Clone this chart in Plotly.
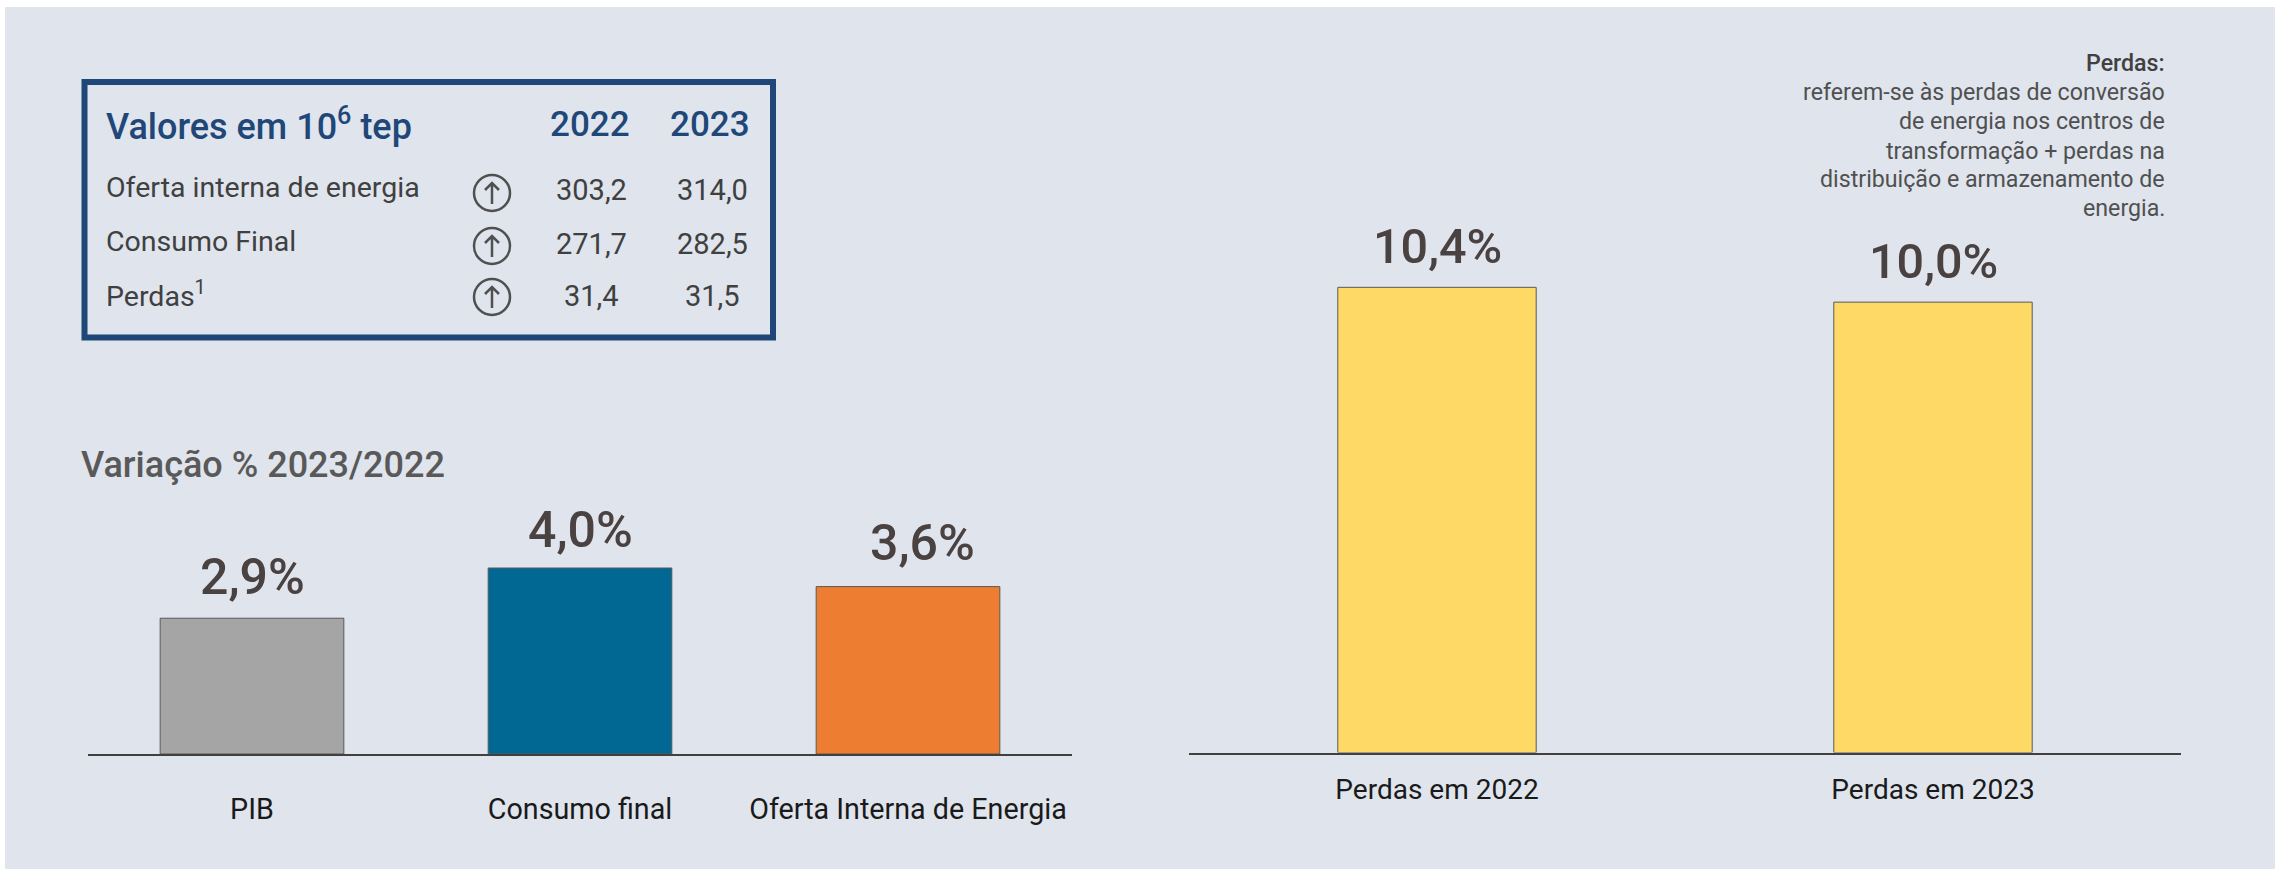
import plotly.graph_objects as go

W, H = 2275, 869
FONT = "Roboto"

# --- data ---
var_categories = ["PIB", "Consumo final", "Oferta Interna de Energia"]
var_values = [2.92, 4.0, 3.6]
var_labels = ["2,9%", "4,0%", "3,6%"]
var_colors = ["#A5A5A5", "#006892", "#ED7D31"]

loss_categories = ["Perdas em 2022", "Perdas em 2023"]
loss_values = [10.36, 10.03]
loss_labels = ["10,4%", "10,0%"]

table_header = ["Valores em 10<sup>6</sup> tep", "2022", "2023"]
table_rows = ["Oferta interna de energia", "Consumo Final", "Perdas<sup>1</sup>"]
table_2022 = ["303,2", "271,7", "31,4"]
table_2023 = ["314,0", "282,5", "31,5"]

note_title = "Perdas:"
note_lines = ["referem-se às perdas de conversão", "de energia nos centros de",
              "transformação + perdas na", "distribuição e armazenamento de", "energia."]
var_title = "Variação % 2023/2022"

# --- label nudges, in pixels (layout only) ---
var_label_dx = [0, 0, 14]
var_label_dy = [10, 7, 13]
loss_label_dy = [10, 10]

# --- helpers ---
px = lambda x: x / W
py = lambda y: 1 - y / H
GREY = "#404040"
LABEL = "#4A4141"
NAVY = "#1F4778"


def txt(x, y, s, size, color=GREY, anchor="left", weight=400):
    return dict(xref="paper", yref="paper", x=px(x), y=py(y), text=s, showarrow=False,
                xanchor=anchor, yanchor="middle", align=anchor,
                font=dict(family=FONT, size=size, color=color, weight=weight))


fig = go.Figure()
fig.add_bar(x=var_categories, y=var_values, marker=dict(color=var_colors, line=dict(color="#595959", width=1)),
            width=0.56, xaxis="x", yaxis="y", showlegend=False)
fig.add_bar(x=loss_categories, y=loss_values, marker=dict(color="#FFD966", line=dict(color="#595959", width=1)),
            width=0.40, xaxis="x2", yaxis="y2", showlegend=False)

ann = []
for c, v, l, dx, dy in zip(var_categories, var_values, var_labels, var_label_dx, var_label_dy):
    ann.append(dict(xref="x", yref="y", x=c, y=v, text=l, showarrow=False, yanchor="bottom",
                    xshift=dx, yshift=dy,
                    font=dict(family=FONT, size=50, color=LABEL, weight=500)))
for c, v, l, dy in zip(loss_categories, loss_values, loss_labels, loss_label_dy):
    ann.append(dict(xref="x2", yref="y2", x=c, y=v, text=l, showarrow=False, yanchor="bottom", yshift=dy,
                    font=dict(family=FONT, size=48.5, color=LABEL, weight=500)))

ann.append(txt(104, 125, table_header[0], 36, NAVY, weight=500))
ann.append(txt(590, 125, table_header[1], 35, NAVY, "center", 500))
ann.append(txt(710, 125, table_header[2], 35, NAVY, "center", 500))

row_y = [188, 242, 293.5]
for y, r, a, b in zip(row_y, table_rows, table_2022, table_2023):
    ann.append(txt(104, y, r, 28.5))
    ann.append(txt(591, y + 2, a, 29, anchor="center"))
    ann.append(txt(712, y + 2, b, 29, anchor="center"))

ann.append(txt(79, 465, var_title, 36, "#595959", weight=500))
ann.append(txt(2167, 63, note_title, 23.2, GREY, "right", 500))
for y, line in zip([92, 121, 151, 179, 208], note_lines):
    ann.append(txt(2167, y, line, 23.2, "#505050", "right"))

shapes = [
    dict(type="rect", xref="paper", yref="paper", x0=px(5), x1=1, y0=0, y1=py(7), fillcolor="#DFE4ED",
         line=dict(width=0), layer="below"),
    dict(type="rect", xref="paper", yref="paper", x0=px(84.5), x1=px(773), y0=py(82), y1=py(337.5),
         line=dict(color=NAVY, width=6), layer="below"),
]
for cy in [193, 246, 297]:
    cx = 492
    shapes.append(dict(type="circle", xref="paper", yref="paper", x0=px(cx - 18), x1=px(cx + 18),
                       y0=py(cy + 18), y1=py(cy - 18), line=dict(color="#505050", width=2.5)))
    shapes.append(dict(type="path", xref="paper", yref="paper",
                       path=f"M {px(cx)} {py(cy + 11)} L {px(cx)} {py(cy - 10)} "
                            f"M {px(cx - 7)} {py(cy - 3)} L {px(cx)} {py(cy - 10)} L {px(cx + 7)} {py(cy - 3)}",
                       line=dict(color="#505050", width=2.5)))

axis_common = dict(showgrid=False, zeroline=False, showline=True, linecolor="#404040", linewidth=2,
                   ticks="outside", tickcolor="rgba(0,0,0,0)")
fig.update_layout(
    width=W, height=H, autosize=False, margin=dict(l=0, r=0, t=0, b=0),
    paper_bgcolor="white", plot_bgcolor="rgba(0,0,0,0)", showlegend=False,
    xaxis=dict(domain=[px(88), px(1072)], anchor="y", ticklen=29,
               tickfont=dict(family=FONT, size=28.7, color="#1A1A1A"), **axis_common),
    yaxis=dict(domain=[py(754), py(500)], range=[0, 254 / 46.5], visible=False),
    xaxis2=dict(domain=[px(1189), px(2181)], anchor="y2", ticklen=11,
                tickfont=dict(family=FONT, size=28, color="#1A1A1A"), **axis_common),
    yaxis2=dict(domain=[py(752.5), py(200)], range=[0, 552.5 / 44.9], visible=False),
    annotations=ann, shapes=shapes,
)
fig.write_html("out.html", config=dict(displayModeBar=False), post_script="document.body.style.margin='0';")
